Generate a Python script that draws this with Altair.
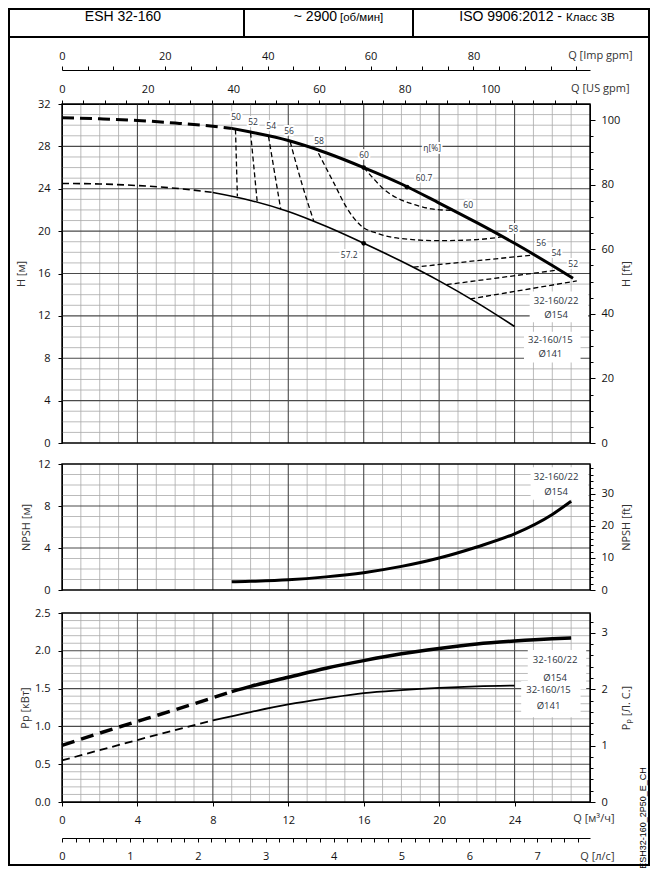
import altair as alt
import pandas as pd

# ------------------------------------------------------------------ data ----
# Flow Q in m3/h.  Head H in m, NPSH in m, power P in kW.
Q_H22_DASH = [0, 2, 4, 6, 8, 9]
H_H22_DASH = [30.7, 30.6, 30.45, 30.2, 29.9, 29.7]
Q_H22 = [9, 10, 12, 14, 16, 18, 20, 22, 24, 26, 27.1]
H_H22 = [29.7, 29.35, 28.55, 27.4, 26.0, 24.45, 22.65, 20.8, 18.85, 16.75, 15.55]

Q_H15_DASH = [0, 2, 4, 6, 8]
H_H15_DASH = [24.5, 24.45, 24.3, 24.05, 23.65]
Q_H15 = [8, 10, 12, 14, 16, 18, 20, 22, 24]
H_H15 = [23.65, 22.9, 21.85, 20.45, 18.85, 17.15, 15.3, 13.25, 11.0]

# efficiency iso-lines (dashed)
ETA50_Q, ETA50_H = [9.2, 9.3], [29.6, 23.3]
ETA52_Q, ETA52_H = [10.0, 10.35], [29.3, 22.8]
ETA54_Q, ETA54_H = [10.95, 11.6], [28.95, 22.05]
ETA56_Q, ETA56_H = [12.1, 12.7, 13.35], [28.45, 24.6, 20.95]
ETA58_Q = [13.6, 14.4, 15.1, 15.8, 16.8, 18.0, 20.0, 22.0, 23.3]
ETA58_H = [27.35, 24.6, 22.2, 20.6, 19.75, 19.3, 19.1, 19.2, 19.45]
ETA60_Q = [16.0, 16.5, 17.1, 17.8, 18.7, 19.6, 20.7]
ETA60_H = [26.0, 25.0, 23.9, 23.1, 22.5, 22.1, 21.95]
ETA56R_Q, ETA56R_H = [18.65, 25.0], [16.6, 17.75]
ETA54R_Q, ETA54R_H = [20.4, 26.4], [14.95, 16.35]
ETA52R_Q, ETA52R_H = [21.65, 27.3], [13.6, 15.3]

MARK_Q = [16.0, 18.3, 16.0]
MARK_H = [26.0, 24.15, 18.85]

ETA_TXT = ["50", "52", "54", "56", "58", "60", "60.7", "60", "58", "56", "54", "52", "57.2", "η[%]"]
ETA_TQ = [9.23, 10.13, 11.09, 12.04, 13.63, 16.02, 19.2, 21.54, 23.93, 25.41, 26.21, 27.11, 15.23, 19.63]
ETA_TH = [30.77, 30.3, 29.92, 29.45, 28.5, 27.2, 25.0, 22.47, 20.2, 18.88, 17.93, 16.9, 17.75, 27.85]

Q_NPSH = [9, 10, 12, 14, 16, 18, 20, 22, 24, 26, 27]
NPSH = [0.78, 0.83, 0.97, 1.25, 1.65, 2.25, 3.05, 4.1, 5.35, 7.2, 8.45]

Q_P22_DASH = [0, 3, 6, 9]
P22_DASH = [0.75, 0.99, 1.22, 1.46]
Q_P22 = [9, 10, 12, 14, 16, 18, 20, 22, 24, 26, 27]
P22 = [1.46, 1.53, 1.65, 1.77, 1.87, 1.96, 2.03, 2.09, 2.13, 2.16, 2.17]
Q_P15_DASH = [0, 4, 8]
P15_DASH = [0.55, 0.82, 1.08]
Q_P15 = [8, 10, 12, 14, 16, 18, 20, 22, 24]
P15 = [1.08, 1.19, 1.29, 1.37, 1.44, 1.48, 1.51, 1.53, 1.54]

# curve labels (text, Q, value) and white boxes behind them
LBL_H_TXT, LBL_H_Q, LBL_H_V = ["32-160/22", "Ø154", "32-160/15", "Ø141"], [26.2, 26.2, 25.9, 25.9], [13.4, 12.05, 9.75, 8.4]
BOX_H_Q1, BOX_H_Q2, BOX_H_V1, BOX_H_V2 = [24.8, 24.5], [27.9, 27.5], [11.4, 7.6], [14.3, 10.5]
LBL_N_TXT, LBL_N_Q, LBL_N_V = ["32-160/22", "Ø154"], [26.2, 26.2], [10.75, 9.35]
BOX_N_Q1, BOX_N_Q2, BOX_N_V1, BOX_N_V2 = [24.85], [27.9], [8.6], [11.7]
LBL_P_TXT, LBL_P_Q, LBL_P_V = ["32-160/22", "Ø154", "32-160/15", "Ø141"], [26.15, 26.15, 25.8, 25.8], [1.875, 1.64, 1.48, 1.27]
BOX_P_Q1, BOX_P_Q2, BOX_P_V1, BOX_P_V2 = [24.7, 24.35], [27.8, 27.5], [1.49, 1.12], [2.01, 1.6]

# axis ticks / grid
Q_MINOR = [q for q in range(1, 28) if q % 4]
Q_MAJOR = [4, 8, 12, 16, 20, 24]
H_MINOR = [h for h in range(1, 32) if h % 4]
H_MAJOR = [4, 8, 12, 16, 20, 24, 28]
N_MINOR = [n for n in range(1, 12) if n % 4]
N_MAJOR = [4, 8]
P_MINOR = [round(i * 0.1, 1) for i in range(1, 25) if i % 5]
P_MAJOR = [0.5, 1.0, 1.5, 2.0]
H_TICKS = [0, 4, 8, 12, 16, 20, 24, 28, 32]
N_TICKS = [0, 4, 8, 12]
P_TICKS = [0.0, 0.5, 1.0, 1.5, 2.0, 2.5]
Q_TICKS = [0, 4, 8, 12, 16, 20, 24]
US_TICKS = list(range(0, 121, 5))
IMP_TICKS = list(range(0, 101, 5))
HFT_TICKS = list(range(0, 101, 5))
HFT_MAJOR = [0, 20, 40, 60, 80, 100]
NFT_TICKS = list(range(0, 39, 2))
NFT_MAJOR = [0, 10, 20, 30]
HP_TICKS = [round(i * 0.2, 1) for i in range(17)]
HP_MAJOR = [0, 1, 2, 3]
LPS_TICKS = [round(i * 0.2, 1) for i in range(39)]

# ------------------------------------------------------------- settings ----
FONT = "Open Sans"
HFONT = "Liberation Sans"
QMAX = 28.0
W, HT = 528, 698                        # whole plotting column (three panels)
R_H, R_N, R_P = [339, 0], [486, 360], [698, 509]   # pixel ranges of the three panels
US_GPM, IMP_GPM, FT, HP, LPS = 0.2271247, 0.2727654, 3.28084, 1 / 0.7457, 3.6
G_MAJ, G_MIN, TXT = "#4a4a4a", "#a9a9a9", "#2c3440"
ONE = pd.DataFrame({"k": [0]})


def sc(lo, hi, rng=None):
    if rng is None:
        return alt.Scale(domain=[lo, hi], nice=False, zero=False)
    return alt.Scale(domain=[lo, hi], range=rng, nice=False, zero=False)


def ax_left(values, fmt, title, titlex, rng):
    return alt.Axis(orient="left", values=values, format=fmt, grid=False, tickSize=4, labelPadding=8,
                    labelFlush=False, labelOverlap=False, title=title, titleX=titlex, titleY=sum(rng) / 2,
                    titleAngle=270, titleAlign="center", titleBaseline="middle")


def ax_right(values, fmt, expr, title, rng):
    return alt.Axis(orient="right", values=values, format=fmt, labelExpr=expr, grid=False, tickSize=3,
                    labelPadding=8, labelFlush=False, labelOverlap=False, title=title, titleX=36,
                    titleY=sum(rng) / 2, titleAngle=270, titleAlign="center", titleBaseline="middle")


def ax_right_major(values):
    return alt.Axis(orient="right", values=values, labels=False, domain=False, grid=False, tickSize=5,
                    title="")


def ax_x(orient, values, expr, title, tx, ty, offset=0, pad=6, fmt="d"):
    return alt.Axis(orient=orient, values=values, format=fmt, labelExpr=expr, grid=False, tickSize=4,
                    offset=offset, labelPadding=pad, labelFlush=False, labelOverlap=False, title=title,
                    titleX=tx, titleY=ty, titleAngle=0, titleAlign="right", titleBaseline="middle")


def make_enc(xaxis, ydom, yrng, yaxis):
    def X(f):
        return alt.X(f, type="quantitative", scale=sc(0, QMAX), axis=xaxis)

    def Y(f):
        return alt.Y(f, type="quantitative", scale=sc(ydom[0], ydom[1], yrng), axis=yaxis)
    return X, Y


def grid(X, Y, ytop, yminor, ymajor):
    def vr(qs, color, w):
        df = pd.DataFrame({"q": qs, "lo": 0.0, "hi": ytop})
        return alt.Chart(df).mark_rule(color=color, strokeWidth=w).encode(x=X("q"), y=Y("lo"), y2="hi")

    def hr(vs, color, w):
        df = pd.DataFrame({"v": vs, "lo": 0.0, "hi": QMAX})
        return alt.Chart(df).mark_rule(color=color, strokeWidth=w).encode(y=Y("v"), x=X("lo"), x2="hi")
    return [vr(Q_MINOR, G_MIN, 0.8), hr(yminor, G_MIN, 0.8), vr(Q_MAJOR, G_MAJ, 1.1), hr(ymajor, G_MAJ, 1.1)]


def frame(X, Y, ytop):
    df = pd.DataFrame({"q1": [0.0], "q2": [QMAX], "v1": [0.0], "v2": [ytop]})
    return alt.Chart(df).mark_rect(fillOpacity=0, stroke="black", strokeWidth=1.4).encode(
        x=X("q1"), x2="q2", y=Y("v1"), y2="v2")


def line(X, Y, q, v, width, dash=None):
    kw = dict(color="black", strokeWidth=width, interpolate="monotone")
    if dash:
        kw["strokeDash"] = dash
    return alt.Chart(pd.DataFrame({"q": q, "v": v})).mark_line(**kw).encode(x=X("q"), y=Y("v"))


def boxes(X, Y, q1, q2, v1, v2):
    df = pd.DataFrame({"q1": q1, "q2": q2, "v1": v1, "v2": v2})
    return alt.Chart(df).mark_rect(color="white").encode(x=X("q1"), x2="q2", y=Y("v1"), y2="v2")


def labels(X, Y, txt, q, v, size=9.5, halo=False):
    df = pd.DataFrame({"t": txt, "q": q, "v": v})
    out = []
    if halo:
        out.append(alt.Chart(df).mark_text(font=FONT, fontSize=size, color="white", stroke="white",
                                           strokeWidth=4, strokeJoin="round")
                   .encode(x=X("q"), y=Y("v"), text="t:N"))
    out.append(alt.Chart(df).mark_text(font=FONT, fontSize=size, color=TXT)
               .encode(x=X("q"), y=Y("v"), text="t:N"))
    return out


def vrule(x, y, y2, w=2.0):
    return alt.Chart(ONE).mark_rule(color="black", strokeWidth=w).encode(
        x=alt.value(x), y=alt.value(y), y2=alt.value(y2))


def hrule(y, x, x2, w=2.0):
    return alt.Chart(ONE).mark_rule(color="black", strokeWidth=w).encode(
        y=alt.value(y), x=alt.value(x), x2=alt.value(x2))


def vtext(s, x, y, size, align="center", font=HFONT, angle=0):
    kw = dict(font=font, fontSize=size, align=align, baseline="middle", color="black")
    if angle:
        kw["angle"] = angle
    return alt.Chart(ONE).mark_text(**kw).encode(x=alt.value(x), y=alt.value(y), text=alt.value(s))


# ------------------------------------------------------------ head panel ----
XH, YH = make_enc(None, (0, 32), R_H, ax_left(H_TICKS, "d", "H [м]", -41, R_H))

eta_rows = []
for name, qs, hs in [("50", ETA50_Q, ETA50_H), ("52", ETA52_Q, ETA52_H), ("54", ETA54_Q, ETA54_H),
                     ("56", ETA56_Q, ETA56_H), ("58", ETA58_Q, ETA58_H), ("60", ETA60_Q, ETA60_H),
                     ("56r", ETA56R_Q, ETA56R_H), ("54r", ETA54R_Q, ETA54R_H), ("52r", ETA52R_Q, ETA52R_H)]:
    for i, (q, h) in enumerate(zip(qs, hs)):
        eta_rows.append({"id": name, "i": i, "q": q, "v": h})
eta = alt.Chart(pd.DataFrame(eta_rows)).mark_line(
    color="black", strokeWidth=1.3, strokeDash=[5, 3], interpolate="monotone").encode(
    x=XH("q"), y=YH("v"), detail="id:N", order="i:Q")

markers = alt.Chart(pd.DataFrame({"q": MARK_Q, "v": MARK_H})).mark_circle(color="black", size=22, opacity=1).encode(
    x=XH("q"), y=YH("v"))

group_h = alt.layer(
    *grid(XH, YH, 32, H_MINOR, H_MAJOR),
    boxes(XH, YH, BOX_H_Q1, BOX_H_Q2, BOX_H_V1, BOX_H_V2),
    eta,
    line(XH, YH, Q_H22_DASH, H_H22_DASH, 3, [12, 6]),
    line(XH, YH, Q_H22, H_H22, 3),
    line(XH, YH, Q_H15_DASH, H_H15_DASH, 1.6, [7, 4]),
    line(XH, YH, Q_H15, H_H15, 1.6),
    markers,
    *labels(XH, YH, ETA_TXT, ETA_TQ, ETA_TH, size=8.5, halo=True),
    *labels(XH, YH, LBL_H_TXT, LBL_H_Q, LBL_H_V, size=9.5),
    frame(XH, YH, 32),
)

# ------------------------------------------------------------ NPSH panel ----
XN, YN = make_enc(None, (0, 12), R_N, ax_left(N_TICKS, "d", "NPSH [м]", -36, R_N))
group_n = alt.layer(
    *grid(XN, YN, 12, N_MINOR, N_MAJOR),
    boxes(XN, YN, BOX_N_Q1, BOX_N_Q2, BOX_N_V1, BOX_N_V2),
    line(XN, YN, Q_NPSH, NPSH, 3),
    *labels(XN, YN, LBL_N_TXT, LBL_N_Q, LBL_N_V, size=9.5),
    frame(XN, YN, 12),
)

# ----------------------------------------------------------- power panel ----
XP, YP = make_enc(ax_x("bottom", Q_TICKS, "datum.label", "Q [м³/ч]", 552, 16, pad=8),
                  (0, 2.5), R_P, ax_left(P_TICKS, ".1f", "Pp [кВт]", -37, R_P))
group_p = alt.layer(
    *grid(XP, YP, 2.5, P_MINOR, P_MAJOR),
    boxes(XP, YP, BOX_P_Q1, BOX_P_Q2, BOX_P_V1, BOX_P_V2),
    line(XP, YP, Q_P22_DASH, P22_DASH, 3.5, [13, 7]),
    line(XP, YP, Q_P22, P22, 3.5),
    line(XP, YP, Q_P15_DASH, P15_DASH, 1.8, [8, 5]),
    line(XP, YP, Q_P15, P15, 1.8),
    *labels(XP, YP, LBL_P_TXT, LBL_P_Q, LBL_P_V, size=9.5),
    frame(XP, YP, 2.5),
)

# ------------------------------------------------------- secondary axes ----
us_layer = alt.Chart(pd.DataFrame({"g": [0, QMAX / US_GPM]})).mark_point(opacity=0).encode(
    x=alt.X("g:Q", scale=sc(0, QMAX / US_GPM),
            axis=ax_x("top", US_TICKS, "datum.value % 20 == 0 && datum.value <= 100 ? datum.label : ''",
                      "Q [US gpm]", 567, -16, pad=6)))
imp_layer = alt.Chart(pd.DataFrame({"g": [0, QMAX / IMP_GPM]})).mark_point(opacity=0).encode(
    x=alt.X("g:Q", scale=sc(0, QMAX / IMP_GPM),
            axis=ax_x("top", IMP_TICKS, "datum.value % 20 == 0 && datum.value <= 80 ? datum.label : ''",
                      "Q [Imp gpm]", 570, -15, offset=34, pad=5)))


def right_layers(field, top, rng, ticks, major, fmt, expr, title):
    df = pd.DataFrame({field: [0, top]})
    a = alt.Chart(df).mark_point(opacity=0).encode(
        y=alt.Y(f"{field}:Q", scale=sc(0, top, rng), axis=ax_right(ticks, fmt, expr, title, rng)))
    b = alt.Chart(df).mark_point(opacity=0).encode(
        y=alt.Y(f"{field}:Q", scale=sc(0, top, rng), axis=ax_right_major(major)))
    return [a, b]


int_expr = "abs(datum.value - round(datum.value)) < 0.01 ? datum.label : ''"
right_axes = (
    right_layers("hft", 32 * FT, R_H, HFT_TICKS, HFT_MAJOR, "d", "datum.value % 20 == 0 ? datum.label : ''", "H [ft]")
    + right_layers("nft", 12 * FT, R_N, NFT_TICKS, NFT_MAJOR, "d", "datum.value % 10 == 0 ? datum.label : ''", "NPSH [ft]")
    + right_layers("hp", 2.5 * HP, R_P, HP_TICKS, HP_MAJOR, ".0f", int_expr, "Pₚ [Л. С.]")
)
lps_layer = alt.Chart(pd.DataFrame({"l": [0, QMAX / LPS]})).mark_point(opacity=0).encode(
    x=alt.X("l:Q", scale=sc(0, QMAX / LPS),
            axis=ax_x("bottom", LPS_TICKS, int_expr, "Q [л/с]", 552, 18, offset=36, pad=8, fmt=".0f")))

# ------------------------------------------------------ header and frame ----
deco = alt.layer(
    vtext("ESH 32-160", 61, -87, 14),
    vtext("~ 2900", 275, -87, 14, "right"),
    vtext("[об/мин]", 278, -86, 11.5, "left"),
    vtext("ISO 9906:2012 -", 500, -87, 14, "right"),
    vtext("Класс 3В", 504, -86, 11.5, "left"),
    vrule(182, -95, -67), vrule(351, -95, -67),
    hrule(-67, -54, 588),
    hrule(-95, -54, 588), hrule(761, -54, 588),
    vrule(-53, -96, 762), vrule(587, -96, 762),
    vtext("ESH32-160_2P50_E_CH", 581, 714, 9, angle=270),
)

chart = alt.layer(
    group_h, group_n, group_p, us_layer, imp_layer, *right_axes, lps_layer, deco
).resolve_scale(x="independent", y="independent").properties(
    width=W, height=HT,
    autosize=alt.AutoSizeParams(type="none"),
    padding={"left": 54, "top": 96, "right": 61, "bottom": 66},
).configure_view(stroke=None).configure_axis(
    labelFont=FONT, labelFontSize=11, labelColor="#111", titleFont=FONT, titleFontSize=11,
    titleFontWeight="normal", titleColor="#333", domainColor="black", tickColor="black",
    domainWidth=1, tickWidth=1,
)

chart.save("out.html", embed_options={"renderer": "svg", "actions": False})
